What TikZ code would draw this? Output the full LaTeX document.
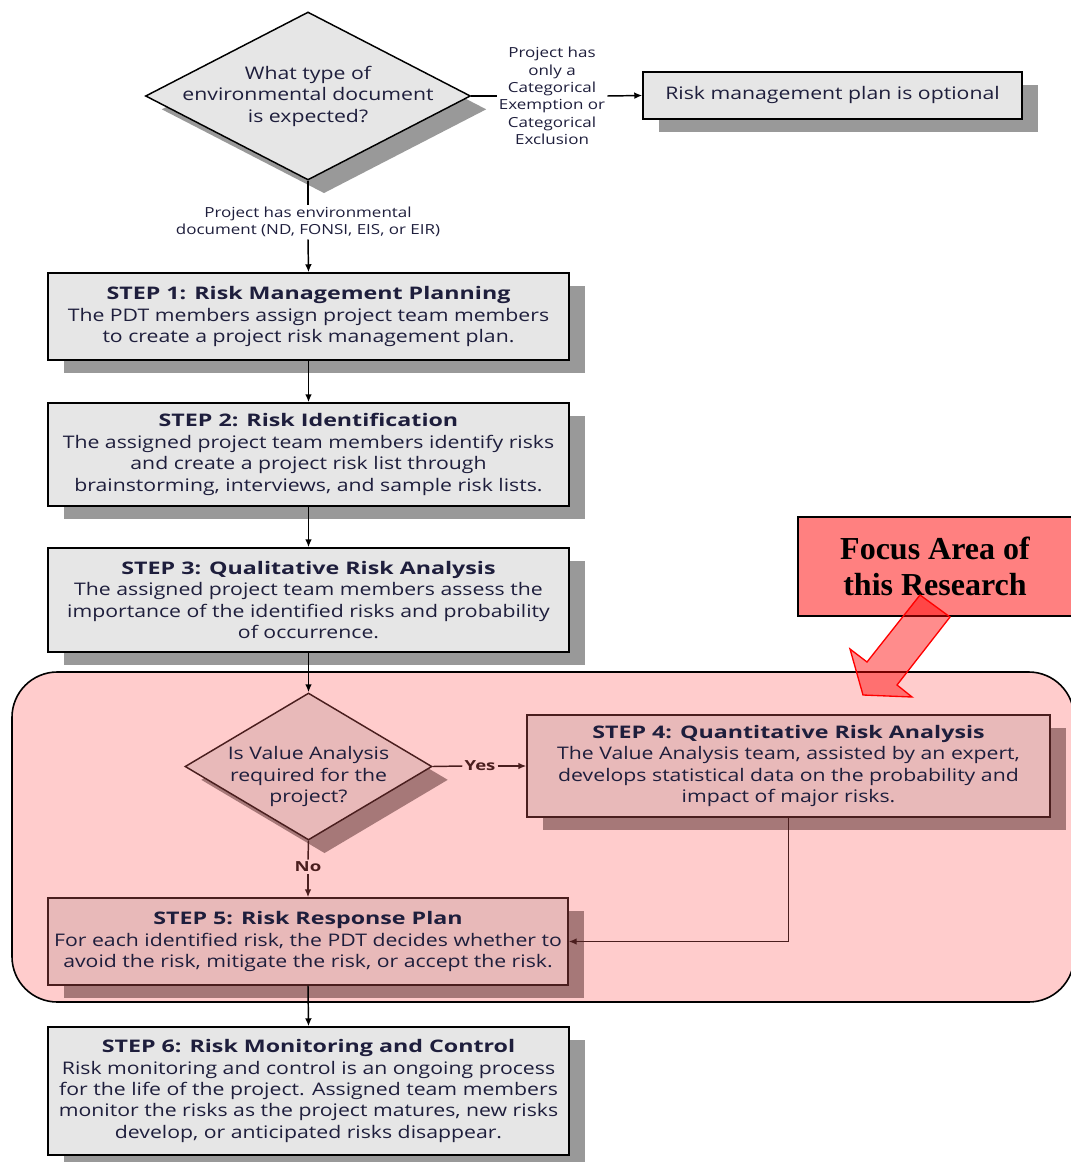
\documentclass[tikz,border=0pt]{standalone}
\usepackage{fontspec}
\setmainfont[FakeStretch=1.225, BoldFeatures={FakeStretch=1.34}]{Open Sans}
\newfontfamily\focusfont{Liberation Serif}
\usetikzlibrary{shapes.geometric,shadows,arrows.meta}
\definecolor{boxgrey}{HTML}{E6E6E6}
\definecolor{shgrey}{HTML}{999999}
\definecolor{regionpink}{HTML}{FFCCCC}
\definecolor{pinkbox}{HTML}{E8B9B9}
\definecolor{pinkshadow}{HTML}{A67878}
\definecolor{pinkborder}{HTML}{4A1E1E}
\definecolor{txtcol}{HTML}{1E1E3C}
\definecolor{focusred}{HTML}{FF8080}
\newcommand\bodyfs{\fontsize{13}{16.1}\selectfont}
\newcommand\smallfs{\fontsize{10.4}{13}\selectfont}
\begin{document}
\begin{tikzpicture}[x=0.75pt,y=-0.75pt,
  txt/.style={text=txtcol, font=\bodyfs, align=center},
  gshadow/.style={drop shadow={shadow xshift=12pt, shadow yshift=-10pt, fill=shgrey, opacity=1}},
  pshadow/.style={drop shadow={shadow xshift=12pt, shadow yshift=-10pt, fill=pinkshadow, opacity=1}},
  gstep/.style={txt, draw=black, line width=1.1pt, fill=boxgrey, inner sep=0pt, gshadow},
  pstep/.style={txt, draw=pinkborder, line width=1.1pt, fill=pinkbox, inner sep=0pt, pshadow},
  gdia/.style={diamond, draw=black, line width=1.1pt, fill=boxgrey, inner sep=0pt, gshadow},
  pdia/.style={diamond, draw=pinkborder, line width=1.1pt, fill=pinkbox, inner sep=0pt, pshadow},
  lbl/.style={text=txtcol, font=\smallfs, align=center, inner sep=1.5pt},
  conn/.style={line width=1.1pt, draw=black},
  pconn/.style={line width=1.1pt, draw=pinkborder},
  arr/.style={-{Latex[length=6pt,width=5pt]}},
  regionbox/.style={draw=black, line width=1.2pt, fill=regionpink, rounded corners=34pt, inner sep=0pt},
  focusbox/.style={draw=black, line width=0.8pt, fill=focusred, inner sep=0pt, align=center, font={\focusfont\bfseries\fontsize{24}{27}\selectfont}},
  bigarrow/.style={draw=red, line width=1pt, fill=red, fill opacity=0.45, line join=miter}
]
\useasboundingbox (0,0) rectangle (1070,1162);

% focus region background
\node[regionbox, minimum width=796.5pt, minimum height=247.5pt] (region) at (543,837) {};

% top decision
\node[gdia, minimum width=243.75pt, minimum height=126pt,
  label={[txt]center:What type of\\environmental document\\is expected?}] (d1) at (308,96) {};
\node[lbl] (lab1) at (552,96) {Project has\\only a\\Categorical\\Exemption or\\Categorical\\Exclusion};
\node[gstep, minimum width=284.25pt, minimum height=35.25pt] (opt) at (832.5,95.5) {Risk management plan is optional};
\node[lbl] (lab2) at (308,222) {Project has environmental\\document (ND, FONSI, EIS, or EIR)};

% steps
\node[gstep, minimum width=390.75pt, minimum height=65.25pt] (s1) at (308.5,316.5)
  {\textbf{STEP 1: Risk Management Planning}\\The PDT members assign project team members\\to create a project risk management plan.};
\node[gstep, minimum width=390.75pt, minimum height=77.25pt] (s2) at (308.5,454.5)
  {\textbf{STEP 2: Risk Identification}\\The assigned project team members identify risks\\and create a project risk list through\\brainstorming, interviews, and sample risk lists.};
\node[gstep, minimum width=390.75pt, minimum height=78pt] (s3) at (308.5,600)
  {\textbf{STEP 3: Qualitative Risk Analysis}\\The assigned project team members assess the\\importance of the identified risks and probability\\of occurrence.};

\node[pdia, minimum width=185.25pt, minimum height=110.25pt,
  label={[txt, yshift=-7.5pt]center:Is Value Analysis\\required for the\\project?}] (d2) at (308.5,766.5) {};
\node[lbl, font=\smallfs\bfseries, text=pinkborder] (yes) at (480,766) {Yes};
\node[lbl, font=\smallfs\bfseries, text=pinkborder] (no) at (308,867) {No};

\node[pstep, minimum width=392.25pt, minimum height=76.5pt] (s4) at (788.5,766)
  {\textbf{STEP 4: Quantitative Risk Analysis}\\The Value Analysis team, assisted by an expert,\\develops statistical data on the probability and\\impact of major risks.};
\node[pstep, minimum width=390pt, minimum height=65.25pt] (s5) at (308,941.5)
  {\textbf{STEP 5: Risk Response Plan}\\For each identified risk, the PDT decides whether to\\avoid the risk, mitigate the risk, or accept the risk.};
\node[gstep, minimum width=390.75pt, minimum height=96pt] (s6) at (308.5,1091)
  {\textbf{STEP 6: Risk Monitoring and Control}\\Risk monitoring and control is an ongoing process\\for the life of the project. Assigned team members\\monitor the risks as the project matures, new risks\\develop, or anticipated risks disappear.};

% connectors
\draw[conn] (d1.east) -- (lab1.west);
\draw[conn, arr] (lab1.east) -- (opt.west);
\draw[conn] (d1.south) -- (lab2.north);
\draw[conn, arr] (lab2.south) -- (s1.north);
\draw[conn, arr] (s1.south) -- (s2.north);
\draw[conn, arr] (s2.south) -- (s3.north);
\draw[conn, arr] (s3.south) -- (d2.north);
\draw[pconn] (d2.east) -- (yes.west);
\draw[pconn, arr] (yes.east) -- (s4.west);
\draw[pconn] (d2.south) -- (no.north);
\draw[pconn, arr] (no.south) -- (s5.north);
\draw[pconn, arr] (s4.south) |- (s5.east);
\draw[conn, arr] (s5.south) -- (s6.north);

% focus label and arrow
\node[focusbox, minimum width=205.5pt, minimum height=74.25pt] (focus) at (935,566.5) {Focus Area of\\this Research};
\draw[bigarrow] (920,595) -- (950,617) -- (897,685) -- (912,697) -- (863,695) -- (850,649) -- (867,662) -- cycle;
\end{tikzpicture}
\end{document}
